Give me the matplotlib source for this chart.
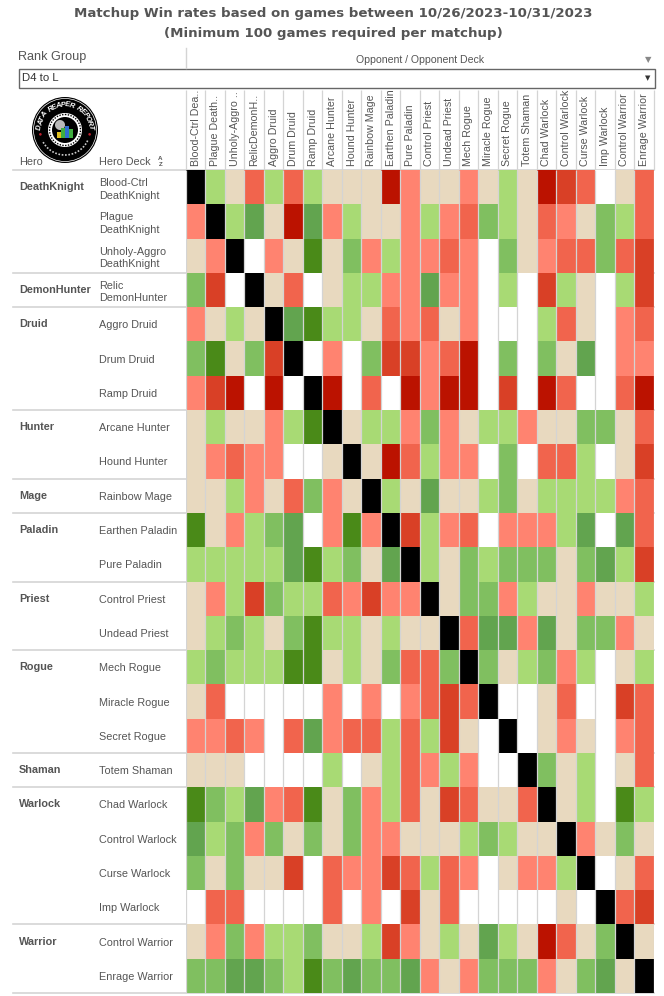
# Matchup win rate table, tiers
import numpy as np
import matplotlib
matplotlib.use("Agg")
import matplotlib.pyplot as plt
from matplotlib.colors import ListedColormap, BoundaryNorm
from matplotlib.patches import Circle, Rectangle, Wedge

plt.rcParams['font.family'] = ['Liberation Sans', 'DejaVu Sans']

# tiers: -4 .. -1 losing, 0 even, 1 .. 4 winning
N = np.nan  # not enough games
X = 5       # mirror

opponents = ['Blood-Ctrl Dea..', 'Plague Death..', 'Unholy-Aggro ..', 'RelicDemonH..', 'Aggro Druid',
             'Drum Druid', 'Ramp Druid', 'Arcane Hunter', 'Hound Hunter', 'Rainbow Mage',
             'Earthen Paladin', 'Pure Paladin', 'Control Priest', 'Undead Priest', 'Mech Rogue',
             'Miracle Rogue', 'Secret Rogue', 'Totem Shaman', 'Chad Warlock', 'Control Warlock',
             'Curse Warlock', 'Imp Warlock', 'Control Warrior', 'Enrage Warrior']

decks = ['Blood-Ctrl\nDeathKnight', 'Plague\nDeathKnight', 'Unholy-Aggro\nDeathKnight', 'Relic\nDemonHunter',
         'Aggro Druid', 'Drum Druid', 'Ramp Druid', 'Arcane Hunter', 'Hound Hunter', 'Rainbow Mage',
         'Earthen Paladin', 'Pure Paladin', 'Control Priest', 'Undead Priest', 'Mech Rogue', 'Miracle Rogue',
         'Secret Rogue', 'Totem Shaman', 'Chad Warlock', 'Control Warlock', 'Curse Warlock', 'Imp Warlock',
         'Control Warrior', 'Enrage Warrior']

heroes = ['DeathKnight', 'DemonHunter', 'Druid', 'Hunter', 'Mage', 'Paladin', 'Priest', 'Rogue', 'Shaman',
          'Warlock', 'Warrior']
hero_sizes = [3, 1, 3, 2, 1, 2, 2, 3, 1, 4, 2]

blood_ctrl = [X, 1, 0, -2, 1, -2, 1, 0, 0, 0, -4, -1, 0, 0, -1, 0, 1, 0, -4, -3, -2, N, 0, -2]
plague = [-1, X, 1, 3, 0, -4, 3, -1, 1, 0, 0, -1, 1, -1, -2, 2, 1, 0, -2, -1, 0, 2, 1, -2]
unholy = [0, -1, X, N, -1, 0, 4, 0, 2, -1, 1, -1, -1, -2, -1, N, 2, 0, -1, -2, -2, 2, -2, -3]
relic = [2, -3, N, X, 0, -2, N, 0, 1, 1, -1, -1, 3, -1, -1, N, 1, N, -3, 1, 0, N, 1, -3]
aggro_druid = [-1, 0, 1, 0, X, 3, 4, 1, 1, 0, -2, -1, -2, 0, -1, N, N, N, 1, -2, 0, N, -1, -2]
drum_druid = [2, 4, 0, 2, -3, X, N, -1, N, 2, -3, -3, -1, -2, -4, N, 2, N, 2, 0, 3, N, -1, -1]
ramp_druid = [-1, -3, -4, N, -4, N, X, -4, N, -2, N, -4, -1, -4, -4, N, -3, N, -4, -2, N, N, -2, -4]
arcane_hunter = [0, 1, 0, 0, -1, 1, 4, X, 0, 1, 1, -1, 2, -1, 0, 1, 1, -1, 0, 0, 2, 2, 0, -2]
hound_hunter = [0, -1, -2, -1, -1, N, N, 0, X, 0, -4, -2, 1, -1, -1, N, 2, N, -2, -2, 1, N, 0, -3]
rainbow_mage = [0, 0, 1, -1, 0, -2, 2, -1, 0, X, 1, 0, 3, 0, 0, 1, 2, 0, 1, 1, 1, 1, -1, -2]
earthen_paladin = [4, 0, -1, 1, 2, 3, N, -1, 4, -1, X, -3, 1, -1, -2, N, -1, -1, -1, 1, 3, N, 3, -2]
pure_paladin = [1, 1, 1, 1, 1, 3, 4, 1, 2, 0, 3, X, 1, 0, 2, 1, 2, 2, 2, 0, 2, 3, 1, -3]
control_priest = [0, -1, 1, -3, 2, 1, 1, -2, -1, -3, -1, -1, X, 0, 2, 2, -1, 1, 0, 0, -1, 0, 0, 1]
undead_priest = [0, 1, 2, 1, 0, 2, 4, 1, 1, 0, 1, 0, 0, X, -2, 3, 3, -1, 3, 0, 2, 2, -1, 0]
mech_rogue = [1, 2, 1, 1, 1, 4, 4, 0, 1, 0, 2, -2, -2, 2, X, 2, 0, 1, 2, -1, 1, N, 0, 1]
miracle_rogue = [0, -2, N, N, N, N, N, -1, N, -1, N, -1, -2, -3, -2, X, N, N, 0, -2, N, N, -3, -2]
secret_rogue = [-1, -1, -2, -1, N, -2, 3, -1, -2, -2, 1, -2, 1, -3, 0, N, X, N, 0, -1, 0, N, -1, -2]
totem_shaman = [0, 0, 0, N, N, N, N, 1, N, 0, 1, -2, -1, 1, -1, N, N, X, 2, 0, 1, N, 0, -2]
chad_warlock = [4, 2, 1, 3, -1, -2, 4, 0, 2, -1, 1, -2, 0, -3, -2, 0, 0, -2, X, 0, 1, N, 4, 1]
control_warlock = [3, 1, 2, -1, 2, 0, 2, 0, 2, -1, -1, 0, 0, 0, 1, 2, 1, 0, 0, X, -1, 0, 2, 0]
curse_warlock = [2, 0, 2, 0, 0, -3, N, -2, -1, -1, -3, -2, 1, -2, -1, N, 0, -1, -1, 1, X, N, 0, -2]
imp_warlock = [N, -2, -2, N, N, N, N, -2, N, -1, N, -3, 0, -2, N, N, N, N, N, 0, N, X, -2, -3]
control_warrior = [0, -1, 2, -1, 1, 1, 2, 0, 0, 1, -3, -1, 0, 1, 0, 3, 1, 0, -4, -2, 0, 2, X, 0]
enrage_warrior = [2, 2, 3, 3, 2, 1, 4, 2, 3, 2, 2, 3, -1, 0, -1, 2, 2, 2, -1, 0, 2, 3, 0, X]

matrix = np.array([blood_ctrl, plague, unholy, relic, aggro_druid, drum_druid, ramp_druid, arcane_hunter,
                   hound_hunter, rainbow_mage, earthen_paladin, pure_paladin, control_priest, undead_priest,
                   mech_rogue, miracle_rogue, secret_rogue, totem_shaman, chad_warlock, control_warlock,
                   curse_warlock, imp_warlock, control_warrior, enrage_warrior], dtype=float)

tier_colors = ['#bb1200', '#d94026', '#f1644d', '#ff8370', '#e8d9bf', '#a8da74', '#80bf60', '#62a44f',
               '#4a8a18', '#000000']

W, H = 664, 996
grid_l, grid_r, grid_t, grid_b = 186, 653.5, 170, 993
line_c = '#d4d4d4'
text_c = '#555555'

fig = plt.figure(figsize=(W / 100, H / 100), dpi=100)

# page layer in pixel coordinates for the header furniture
page = fig.add_axes([0, 0, 1, 1])
page.set_xlim(0, W)
page.set_ylim(H, 0)
page.axis('off')

ax = fig.add_axes([grid_l / W, 1 - grid_b / H, (grid_r - grid_l) / W, (grid_b - grid_t) / H])
cmap = ListedColormap(tier_colors)
cmap.set_bad('white')
norm = BoundaryNorm(np.arange(-4.5, 6), cmap.N)
ax.pcolormesh(np.ma.masked_invalid(matrix), cmap=cmap, norm=norm)
ax.set_xlim(0, len(opponents))
ax.set_ylim(len(decks), 0)
for s in ax.spines.values():
    s.set_visible(False)
ax.vlines(np.arange(0, len(opponents) + 1), 0, len(decks), color=line_c, lw=0.9)

ax.xaxis.tick_top()
ax.set_xticks(np.arange(len(opponents)) + 0.5)
ax.set_xticklabels(opponents, rotation=90, ha='center', va='bottom', fontsize=7.7, color=text_c)
ax.set_yticks(np.arange(len(decks)) + 0.5)
ax.set_yticklabels(decks, ha='left', fontsize=7.8, color=text_c, linespacing=1.3)
ax.tick_params(axis='x', length=0, pad=3)
ax.tick_params(axis='y', length=0, pad=(grid_l - 99) * 0.72)

# hero groups with their separators
row_h = (grid_b - grid_t) / len(decks)
row = 0
page.plot([13, grid_r], [grid_t, grid_t], color=line_c, lw=1.2)
for hero, size in zip(heroes, hero_sizes):
    page.text(19, grid_t + row_h * (row + 0.5), hero, fontsize=7.8, fontweight='bold', color=text_c,
              ha='left', va='center')
    row += size
    page.plot([13, grid_r], [grid_t + row_h * row] * 2, color=line_c, lw=1.2, zorder=5)

# title and filter
page.text(333, 13.5, 'Matchup Win rates based on games between 10/26/2023-10/31/2023', family='DejaVu Sans',
          fontsize=9.6, fontweight='bold', color=text_c, ha='center', va='center')
page.text(333, 33.5, '(Minimum 100 games required per matchup)', family='DejaVu Sans',
          fontsize=9.6, fontweight='bold', color=text_c, ha='center', va='center')
page.text(18, 57, 'Rank Group', fontsize=9.1, color=text_c, ha='left', va='center')
page.text(420, 59.5, 'Opponent / Opponent Deck', fontsize=7.6, color=text_c, ha='center', va='center')
page.plot([grid_l, grid_l], [48, 68], color=line_c, lw=1)
page.add_patch(Rectangle((18.5, 68.5), 636, 19, fc='white', ec='#666666', lw=1))
page.text(22, 78, 'D4 to L', fontsize=8.2, color='#333333', ha='left', va='center')
page.text(648, 60, '▼', family='DejaVu Sans', fontsize=6, color='#888888', ha='center', va='center')
page.text(648, 78, '▼', family='DejaVu Sans', fontsize=5, color='#333333', ha='center', va='center')
page.vlines(grid_l + np.arange(len(opponents) + 1) * (grid_r - grid_l) / len(opponents), 90, grid_t,
            color=line_c, lw=0.9)

# column headers of the row dimensions
page.text(19, 162, 'Hero', fontsize=7.8, color=text_c, ha='left', va='center')
page.text(99, 162, 'Hero Deck', fontsize=7.8, color=text_c, ha='left', va='center')
page.text(160.5, 158.5, 'A', fontsize=4.5, fontweight='bold', color=text_c, ha='center', va='center')
page.text(160.5, 164, 'Z', fontsize=4.5, fontweight='bold', color=text_c, ha='center', va='center')

# logo
cx, cy = 65, 130
page.add_patch(Circle((cx, cy), 33, fc='black', ec='none', zorder=6))
page.add_patch(Circle((cx, cy), 31.5, fc='none', ec='white', lw=0.5, zorder=7))
page.add_patch(Circle((cx, cy), 17, fc='white', ec='none', zorder=7))
page.add_patch(Circle((cx, cy), 15.5, fc='none', ec='black', lw=1, ls=(0, (1, 1)), zorder=8))
page.add_patch(Circle((cx, cy), 13, fc='black', ec='none', zorder=8))
page.add_patch(Wedge((cx - 5, cy - 5), 5, 0, 360, fc='#e8e8e8', ec='none', alpha=0.8, zorder=8))
for dx, bar_h, c in [(-6, 6, '#e0c020'), (-2, 10, '#3fae3f'), (2, 12, '#2f6fd0'), (6, 9, '#3fae3f')]:
    page.add_patch(Rectangle((cx + dx - 1.8, cy + 8 - bar_h), 3.6, bar_h, fc=c, ec='none', zorder=9))
logo_text = 'DATA REAPER REPORT'
for i, ch in enumerate(logo_text):
    ang = np.radians(-84 + i * 168 / (len(logo_text) - 1))
    page.text(cx + 25 * np.sin(ang), cy - 25 * np.cos(ang), ch, fontsize=5.4, fontweight='bold', style='italic',
              color='white', rotation=-np.degrees(ang), rotation_mode='anchor', ha='center', va='center', zorder=9)
for a in (-100, 100):
    page.add_patch(Circle((cx + 25 * np.sin(np.radians(a)), cy - 25 * np.cos(np.radians(a))), 1.3, fc='#c02030',
                          ec='none', zorder=9))
arc = np.radians(np.linspace(115, 245, 40))
page.plot(cx + 25 * np.sin(arc), cy - 25 * np.cos(arc), color='#cccccc', lw=1.2, ls=(0, (1, 1)), zorder=9)

fig.savefig('out.png', dpi=100)
